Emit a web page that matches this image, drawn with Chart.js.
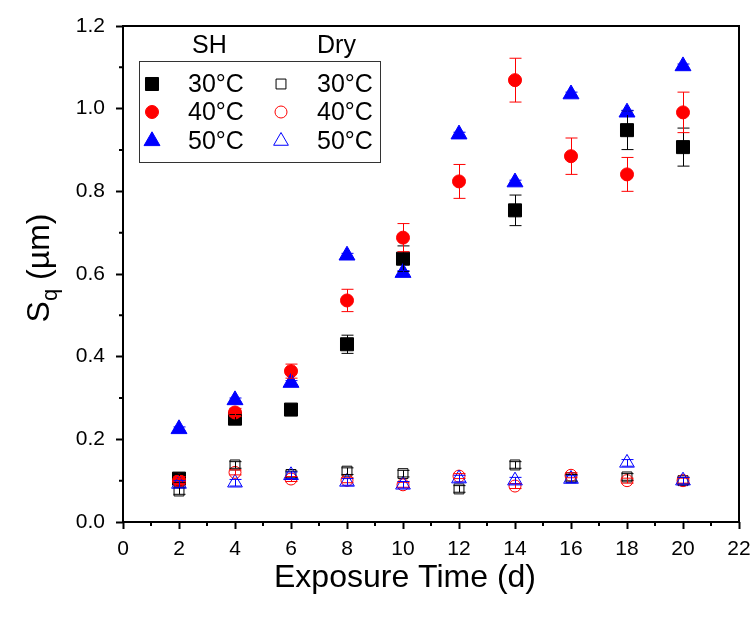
<!DOCTYPE html>
<html>
<head>
<meta charset="utf-8">
<script src="https://cdn.jsdelivr.net/npm/chart.js@4.4.1/dist/chart.umd.min.js"></script>
<style>
  html, body { margin: 0; padding: 0; background: #fff; }
  #wrap { width: 755px; height: 619px; }
</style>
</head>
<body>
<div id="wrap"><canvas id="chart" width="755" height="619"></canvas></div>
<script>
// exposure days and measured Sq values (µm)
const days = [2, 4, 6, 8, 10, 12, 14, 16, 18, 20];

const sh30 = [0.105, 0.250, 0.272, 0.430, 0.637, null, 0.754, null, 0.948, 0.907];
const sh30Err = [0.010, 0.010, 0.010, 0.022, 0.031, null, 0.037, null, 0.047, 0.046];
const sh40 = [0.100, 0.265, 0.365, 0.536, 0.688, 0.824, 1.069, 0.885, 0.841, 0.991];
const sh40Err = [0.010, 0.010, 0.017, 0.027, 0.034, 0.041, 0.053, 0.044, 0.041, 0.049];
const sh50 = [0.225, 0.295, 0.337, 0.645, 0.603, 0.938, 0.822, 1.035, 0.991, 1.103];
const sh50Err = [0.005, 0.005, 0.005, 0.005, 0.005, 0.005, 0.005, 0.005, 0.005, 0.005];

const dry30 = [0.075, 0.138, 0.115, 0.123, 0.117, 0.080, 0.138, 0.107, 0.109, 0.100];
const dry30Err = [0.008, 0.008, 0.008, 0.008, 0.008, 0.008, 0.008, 0.008, 0.008, 0.008];
const dry40 = [0.099, 0.120, 0.104, 0.101, 0.090, 0.111, 0.087, 0.113, 0.100, 0.100];
const dry40Err = [0.006, 0.006, 0.006, 0.006, 0.006, 0.006, 0.006, 0.006, 0.006, 0.006];
const dry50 = [0.092, 0.095, 0.113, 0.097, 0.090, 0.105, 0.100, 0.104, 0.143, 0.100];
const dry50Err = [0.008, 0.008, 0.008, 0.008, 0.008, 0.008, 0.008, 0.008, 0.008, 0.008];

const xTicks = [0, 2, 4, 6, 8, 10, 12, 14, 16, 18, 20, 22];
const yTicks = [0.0, 0.2, 0.4, 0.6, 0.8, 1.0, 1.2];
const tempLabels = ['30°C', '40°C', '50°C'];

const FONT = 'Arial, "Liberation Sans", sans-serif';

function pts(vals) {
  return days.map((d, i) => ({ x: d, y: vals[i] })).filter(p => p.y !== null);
}

function series(label, vals, errs, color, style, filled, radius, order) {
  return {
    label: label,
    data: pts(vals),
    errors: errs,
    values: vals,
    showLine: false,
    pointStyle: style,
    pointRadius: radius,
    pointHoverRadius: radius,
    pointBorderWidth: 1,
    pointBorderColor: color,
    pointBackgroundColor: filled ? color : 'rgba(0,0,0,0)',
    order: order
  };
}

const datasets = [
  series('SH 30°C', sh30, sh30Err, '#000000', 'rect', true, 9.2, 6),
  series('SH 40°C', sh40, sh40Err, '#ff0000', 'circle', true, 6.5, 5),
  series('SH 50°C', sh50, sh50Err, '#0000ff', 'triangle', true, 9.2, 4),
  series('Dry 30°C', dry30, dry30Err, '#000000', 'rect', false, 7, 3),
  series('Dry 40°C', dry40, dry40Err, '#ff0000', 'circle', false, 6, 2),
  series('Dry 50°C', dry50, dry50Err, '#0000ff', 'triangle', false, 8.5, 1)
];

function drawMarker(ctx, ds, x, y) {
  ctx.save();
  ctx.fillStyle = ds.pointBackgroundColor;
  ctx.strokeStyle = ds.pointBorderColor;
  ctx.lineWidth = 1;
  Chart.helpers.drawPoint(ctx, { pointStyle: ds.pointStyle, radius: ds.pointRadius, borderWidth: 1 }, x, y);
  ctx.restore();
}

// error bars, frame, minor ticks, axis titles and the two-column legend
const extras = {
  id: 'extras',
  afterDatasetsDraw(chart) {
    const ctx = chart.ctx;
    const xs = chart.scales.x, ys = chart.scales.y;
    ctx.save();
    ctx.lineWidth = 1;
    chart.data.datasets.forEach(ds => {
      ctx.strokeStyle = ds.pointBorderColor;
      days.forEach((d, i) => {
        const v = ds.values[i], e = ds.errors[i];
        if (v === null || e === null) return;
        const px = Math.round(xs.getPixelForValue(d)) + 0.5;
        const top = ys.getPixelForValue(v + e);
        const bot = ys.getPixelForValue(v - e);
        ctx.beginPath();
        ctx.moveTo(px, top); ctx.lineTo(px, bot);
        ctx.moveTo(px - 6, top); ctx.lineTo(px + 6, top);
        ctx.moveTo(px - 6, bot); ctx.lineTo(px + 6, bot);
        ctx.stroke();
      });
    });
    ctx.restore();
  },
  afterDraw(chart) {
    const ctx = chart.ctx;
    const a = chart.chartArea;
    const xs = chart.scales.x, ys = chart.scales.y;
    ctx.save();
    // frame
    ctx.strokeStyle = '#000';
    ctx.lineWidth = 2;
    ctx.strokeRect(a.left, a.top, a.right - a.left, a.bottom - a.top);
    // minor ticks
    ctx.beginPath();
    for (let v = 1; v < 22; v += 2) {
      const px = xs.getPixelForValue(v);
      ctx.moveTo(px, a.bottom); ctx.lineTo(px, a.bottom + 4);
    }
    for (let v = 0.1; v < 1.2; v += 0.2) {
      const py = ys.getPixelForValue(v);
      ctx.moveTo(a.left, py); ctx.lineTo(a.left - 4, py);
    }
    ctx.stroke();

    // x title
    ctx.fillStyle = '#000';
    ctx.font = '32px ' + FONT;
    ctx.textAlign = 'center';
    ctx.textBaseline = 'middle';
    ctx.fillText('Exposure Time (d)', 405, 578);

    // y title with subscript q
    ctx.translate(38, 268);
    ctx.rotate(-Math.PI / 2);
    ctx.textAlign = 'left';
    ctx.textBaseline = 'alphabetic';
    ctx.font = '32px ' + FONT;
    const wS = ctx.measureText('S').width;
    const wRest = ctx.measureText(' (µm)').width;
    ctx.font = '22px ' + FONT;
    const wq = ctx.measureText('q').width;
    const x0 = -(wS + wq + wRest) / 2;
    ctx.font = '32px ' + FONT;
    ctx.fillText('S', x0, 11);
    ctx.font = '22px ' + FONT;
    ctx.fillText('q', x0 + wS, 19);
    ctx.font = '32px ' + FONT;
    ctx.fillText(' (µm)', x0 + wS + wq, 11);
    ctx.setTransform(1, 0, 0, 1, 0, 0);

    // legend
    ctx.lineWidth = 1;
    ctx.strokeStyle = '#333';
    ctx.strokeRect(139.5, 61.5, 241, 101);
    ctx.fillStyle = '#000';
    ctx.font = '25px ' + FONT;
    ctx.textAlign = 'left';
    ctx.textBaseline = 'middle';
    ctx.fillText('SH', 192, 46);
    ctx.fillText('Dry', 317, 46);
    const rows = [84, 112, 141];
    for (let r = 0; r < 3; r++) {
      drawMarker(ctx, chart.data.datasets[r], 152, rows[r]);
      drawMarker(ctx, chart.data.datasets[r + 3], 281, rows[r]);
      ctx.fillText(tempLabels[r], 188, rows[r] + 1);
      ctx.fillText(tempLabels[r], 317, rows[r] + 1);
    }
    ctx.restore();
  }
};

new Chart(document.getElementById('chart'), {
  type: 'scatter',
  data: { datasets: datasets },
  options: {
    responsive: false,
    animation: false,
    layout: { padding: { top: 26, right: 16, left: 0, bottom: 0 } },
    plugins: { legend: { display: false }, tooltip: { enabled: false } },
    scales: {
      x: {
        type: 'linear', min: 0, max: 22,
        afterBuildTicks: s => { s.ticks = xTicks.map(v => ({ value: v })); },
        afterFit: s => { s.height = 97; s.paddingLeft = 0; s.paddingRight = 0; },
        ticks: { color: '#000', font: { family: FONT, size: 21 }, padding: 8 },
        grid: { drawOnChartArea: false, drawTicks: true, tickLength: 7, tickColor: '#000', tickWidth: 2 },
        border: { display: false }
      },
      y: {
        type: 'linear', min: 0, max: 1.2,
        afterBuildTicks: s => { s.ticks = yTicks.map(v => ({ value: v })); },
        afterFit: s => { s.width = 123; s.paddingTop = 0; s.paddingBottom = 0; },
        ticks: { color: '#000', font: { family: FONT, size: 21 }, padding: 11,
          callback: v => v.toFixed(1) },
        grid: { drawOnChartArea: false, drawTicks: true, tickLength: 7, tickColor: '#000', tickWidth: 2 },
        border: { display: false }
      }
    }
  },
  plugins: [extras]
});
</script>
</body>
</html>
